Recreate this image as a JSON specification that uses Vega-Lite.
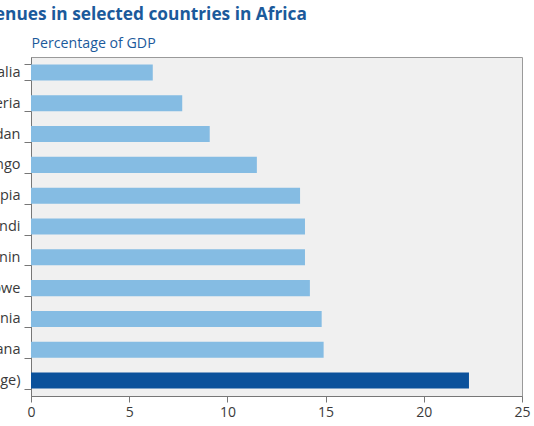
{
  "$schema": "https://vega.github.io/schema/vega-lite/v6.json",
  "autosize": "none",
  "width": 491,
  "height": 339,
  "padding": {"left": 31, "top": 57, "right": 12, "bottom": 30},
  "background": "white",
  "title": {
    "text": "Tax revenues in selected countries in Africa",
    "anchor": "start",
    "frame": "group",
    "dx": -99,
    "offset": 13,
    "font": "Open Sans",
    "fontSize": 17.3,
    "fontWeight": "bold",
    "color": "#1b5a9b"
  },
  "config": {
    "view": {"fill": "#f0f0f0", "stroke": "#9a9a9a", "strokeWidth": 1},
    "font": "Open Sans",
    "axis": {
      "labelFont": "Open Sans",
      "labelFontSize": 14,
      "labelColor": "#3a3a3a",
      "domainColor": "#777777",
      "tickColor": "#777777",
      "grid": false
    }
  },
  "data": {
    "values": [
      {"Country": "Somalia", "Value": 6.2, "Group": "Country"},
      {"Country": "Nigeria", "Value": 7.7, "Group": "Country"},
      {"Country": "Sudan", "Value": 9.1, "Group": "Country"},
      {"Country": "Congo", "Value": 11.5, "Group": "Country"},
      {"Country": "Ethiopia", "Value": 13.7, "Group": "Country"},
      {"Country": "Burundi", "Value": 13.95, "Group": "Country"},
      {"Country": "Benin", "Value": 13.95, "Group": "Country"},
      {"Country": "Zimbabwe", "Value": 14.2, "Group": "Country"},
      {"Country": "Tanzania", "Value": 14.8, "Group": "Country"},
      {"Country": "Ghana", "Value": 14.9, "Group": "Country"},
      {"Country": "Africa (average)", "Value": 22.3, "Group": "Average"}
    ]
  },
  "mark": {"type": "bar"},
  "encoding": {
    "y": {
      "field": "Country",
      "type": "nominal",
      "sort": null,
      "scale": {"paddingInner": 0.48, "paddingOuter": 0.24},
      "axis": {
        "title": "Percentage of GDP",
        "titleAngle": 0,
        "titleAlign": "left",
        "titleBaseline": "alphabetic",
        "titleX": 0,
        "titleY": -10,
        "titleFont": "Open Sans",
        "titleFontSize": 14.2,
        "titleFontWeight": "normal",
        "titleColor": "#1b5a9b",
        "tickBand": "extent",
        "tickSize": 7,
        "labelPadding": 4,
        "labelFontSize": 14.5
      }
    },
    "x": {
      "field": "Value",
      "type": "quantitative",
      "scale": {"domain": [0, 25], "nice": false},
      "axis": {
        "title": null,
        "values": [0, 5, 10, 15, 20, 25],
        "tickSize": 6,
        "labelPadding": 3,
        "labelFlush": false
      }
    },
    "color": {
      "field": "Group",
      "type": "nominal",
      "scale": {"domain": ["Country", "Average"], "range": ["#85bce3", "#0b519b"]},
      "legend": null
    }
  }
}
